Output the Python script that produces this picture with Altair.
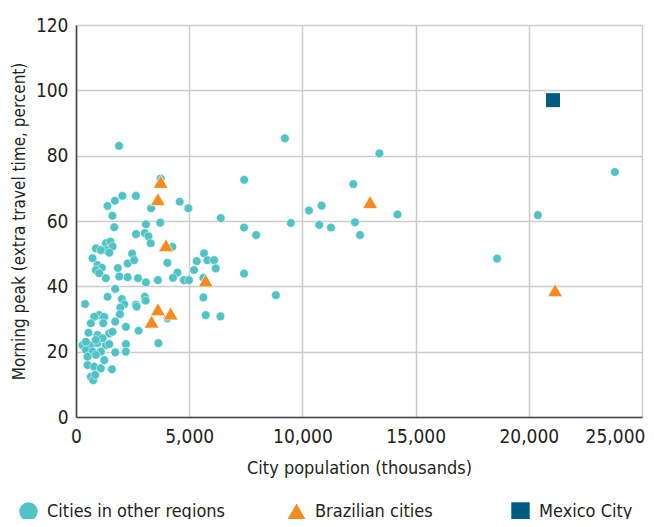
import altair as alt
import pandas as pd

# ---- data (population in thousands, extra travel time in percent) ----
other_x = [1900, 3740, 1390, 1717, 2050, 2646, 3320, 1610, 1690, 3720, 3090, 2650, 3040, 3200, 3300,
           880, 1320, 1520, 1615, 1320, 1097, 1470, 2480, 2280, 2570, 730, 950, 1142, 877, 1025,
           1320, 1850, 1910, 2280, 2740, 3090, 3620, 4035, 4480, 4283, 4770, 4990, 5212, 5332, 5655,
           5805, 6097, 6172, 5628, 4580, 4965, 4257, 6394,
           1733, 1394, 400, 2027, 2130, 1960, 2646, 2677, 3040, 3075, 1938, 4035, 5628, 5730, 6380,
           1025, 1246, 805, 1733, 655, 1204, 2204, 2765, 3640, 553, 950, 1470, 1615, 288, 655, 950,
           1320, 1470, 2204, 2204, 1733, 434, 730, 1097, 877, 1248, 509, 805, 1097, 1584, 655, 761,
           850, 509, 1173, 434, 877,
           9226, 13400, 23800, 12250, 7430, 20400, 14200, 10290, 10850, 9490, 10745, 11260, 12320,
           12545, 7425, 7956, 7425, 8827, 18600]
other_y = [83, 73, 64.6, 66.2, 67.7, 67.7, 63.9, 61.6, 58.1, 59.5, 59, 56, 56.3, 55.3, 53.2,
           51.6, 53.2, 53.7, 52.2, 51.1, 51.1, 50.3, 50, 47, 48, 48.6, 46.5, 45.7, 45, 44,
           42.5, 45.6, 43, 42.8, 42.5, 41.2, 41.9, 47.2, 44.2, 42.6, 41.9, 41.9, 45, 47.7, 50.1,
           48, 48, 45.5, 42.6, 65.9, 63.9, 52.1, 60.9,
           39.2, 36.8, 34.6, 36.1, 34.5, 33.5, 34.4, 33.8, 36.8, 35.6, 31.5, 30.2, 36.6, 31.2, 30.8,
           31.2, 30.7, 30.7, 29.2, 28.7, 28.7, 27.6, 26.4, 22.6, 25.8, 25.1, 25.6, 26.1, 22, 22, 22.6,
           22, 22.3, 22.3, 20, 19.8, 20.5, 20, 20, 19, 17.4, 15.9, 15.4, 14.9, 14.6, 12.3, 11.3,
           12.9, 18.5, 24.1, 23, 23.6,
           85.3, 80.7, 75, 71.3, 72.6, 61.8, 62, 63.2, 64.7, 59.4, 58.8, 58, 59.6,
           55.7, 58, 55.7, 43.9, 37.3, 48.5]

brazil_x = [3740, 3620, 3975, 5730, 12990, 3620, 4181, 3341, 21160]
brazil_y = [72, 66.7, 52.6, 41.8, 65.8, 33, 31.7, 29.2, 38.8]

mexico_x = [21070]
mexico_y = [97]

x_ticks = [0, 5000, 10000, 15000, 20000, 25000]
y_ticks = [0, 20, 40, 60, 80, 100, 120]

names = ["Cities in other regions", "Brazilian cities", "Mexico City"]
colors = ["#4FC3C6", "#F68B1F", "#005B82"]

FONT = "DejaVu Sans Condensed, DejaVu Sans, sans-serif"
TXT = "#231F20"

df_o = pd.DataFrame({"pop": other_x, "peak": other_y, "group": names[0]})
df_b = pd.DataFrame({"pop": brazil_x, "peak": brazil_y, "group": names[1]})
df_m = pd.DataFrame({"pop": mexico_x, "peak": mexico_y, "group": names[2]})

x_enc = alt.X(
    "pop:Q",
    scale=alt.Scale(domain=[0, 25000], nice=False, zero=True),
    axis=alt.Axis(
        values=x_ticks, format=",d", title="City population (thousands)",
        labelFlush=False, labelOverlap=False,
        labelOffset={"condition": {"test": "datum.value == 25000", "value": -27}, "value": 0},
    ),
)
y_enc = alt.Y(
    "peak:Q",
    scale=alt.Scale(domain=[0, 120], nice=False),
    axis=alt.Axis(values=y_ticks, title="Morning peak (extra travel time, percent)",
                  labelOverlap=False),
)


def leg(symbol, lx):
    return alt.Legend(
        orient="none", legendX=lx, legendY=477, title=None, symbolType=symbol,
        symbolSize=340, symbolStrokeWidth=0, labelFont=FONT, labelFontSize=18,
        labelColor=TXT, labelOffset=9, labelLimit=400,
    )


pts_o = alt.Chart(df_o).mark_point(
    shape="circle", filled=True, size=75, opacity=1, stroke="white", strokeWidth=0.5
).encode(
    x=x_enc, y=y_enc,
    color=alt.Color("group:N", scale=alt.Scale(domain=[names[0]], range=[colors[0]]),
                    legend=leg("circle", -57)),
)
pts_b = alt.Chart(df_b).mark_point(
    shape="triangle-up", filled=True, size=225, opacity=1, stroke="white", strokeWidth=0.7
).encode(
    x=x_enc, y=y_enc,
    color=alt.Color("group:N", scale=alt.Scale(domain=[names[1]], range=[colors[1]]),
                    legend=leg("triangle-up", 211)),
)
pts_m = alt.Chart(df_m).mark_point(
    shape="square", filled=True, size=196, opacity=1
).encode(
    x=x_enc, y=y_enc,
    color=alt.Color("group:N", scale=alt.Scale(domain=[names[2]], range=[colors[2]]),
                    legend=leg("square", 435)),
)

chart = alt.layer(pts_o, pts_b, pts_m).resolve_scale(color="independent").properties(
    width=566, height=392,
    autosize=alt.AutoSizeParams(type="none"),
    padding={"left": 68, "top": 17, "right": 4, "bottom": 102},
).configure_view(stroke=None).configure_axis(
    grid=True, gridColor="#CCCCCC", gridWidth=1.5,
    ticks=False, domain=True, domainColor="#444444", domainWidth=1.6,
    labelFont=FONT, labelFontSize=19, labelColor=TXT,
    titleFont=FONT, titleFontWeight="normal", titleColor=TXT,
).configure_axisX(labelPadding=10, titlePadding=13, titleFontSize=18).configure_axisY(
    labelPadding=8, titlePadding=7, titleFontSize=17
)

chart.save("out.html", embed_options={"renderer": "svg", "actions": False})
